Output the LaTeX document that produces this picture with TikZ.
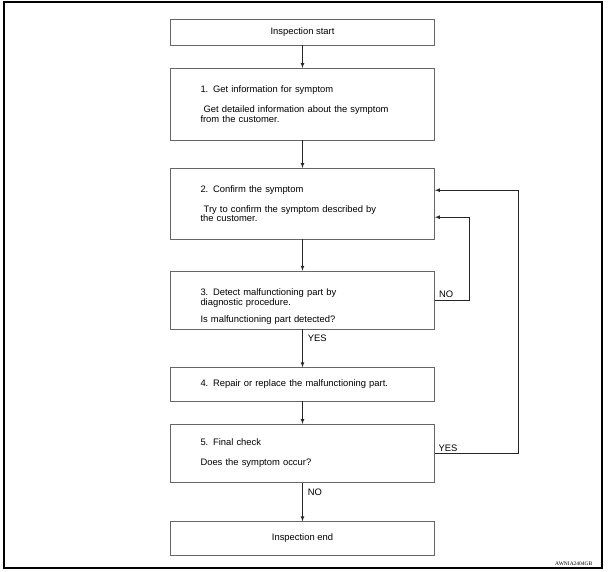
\documentclass[tikz,border=0pt]{standalone}
\usepackage{fontspec}
\setmainfont{Liberation Sans}
\newfontfamily\stampfont{Liberation Serif}
\usetikzlibrary{arrows,positioning,calc}

\begin{document}
\begin{tikzpicture}[x=1pt,y=-1pt,
  box/.style={draw=black!60, line width=0.7pt, minimum width=264pt, inner ysep=0pt, font=\fontsize{9.4}{9.4}\selectfont},
  stepbox/.style={box, text width=204pt, inner xsep=30pt, align=left},
  endbox/.style={box, align=center},
  lbl/.style={inner sep=0pt, font=\fontsize{9.4}{9.4}\selectfont},
  flow/.style={-latex, line width=0.7pt, draw=black!85}
]
\useasboundingbox (0,0) rectangle (615,572);
\draw[line width=1.5pt] (4,2) rectangle (602,568);

\node[endbox, minimum height=25.7pt] (start) at (302.5,32.2) {Inspection start};
\node[stepbox, minimum height=71.7pt] (s1) at (302.5,104.2) {1. Get information for symptom\\[10.6pt]\ Get detailed information about the symptom\\from the customer.};
\node[stepbox, minimum height=70.7pt] (s2) at (302.5,203.7) {2. Confirm the symptom\\[10.6pt]\ Try to confirm the symptom described by\\the customer.};
\node[stepbox, minimum height=58pt] (s3) at (302.5,300) {\mbox{}\\[11pt]3. Detect malfunctioning part by\\diagnostic procedure.\\[7.9pt]Is malfunctioning part detected?};
\node[stepbox, minimum height=33.3pt] (s4) at (302.5,384.3) {4. Repair or replace the malfunctioning part.};
\node[stepbox, minimum height=58.4pt] (s5) at (302.5,453.5) {5. Final check\\[10.6pt]Does the symptom occur?};
\node[endbox, minimum height=33.3pt] (end) at (302.5,538.3) {Inspection end};

% Arrows
\draw[flow] (start) -- (s1);
\draw[flow] (s1) -- (s2);
\draw[flow] (s2) -- (s3);
\draw[flow] (s3) -- node[lbl, anchor=west, pos=.24, xshift=5pt]{YES} (s4);
\draw[flow] (s4) -- (s5);
\draw[flow] (s5) -- node[lbl, anchor=west, pos=.24, xshift=5pt]{NO} (end);

% Loops back to step 2
\draw[flow] (s3.east) -- node[lbl, anchor=base west, pos=0, xshift=4pt, yshift=2.6pt]{NO} ++(34,0) |- ([yshift=-13.5pt]s2.east);
\draw[flow] (s5.east) -- node[lbl, anchor=base west, pos=0, xshift=3.5pt, yshift=2pt]{YES} ++(83,0) |- ([yshift=13.5pt]s2.east);

\node[inner sep=0pt, font=\stampfont\fontsize{5.5}{5.5}\selectfont] (stamp) at (573.8,564) {AWNIA2404GB};
\end{tikzpicture}
\end{document}
